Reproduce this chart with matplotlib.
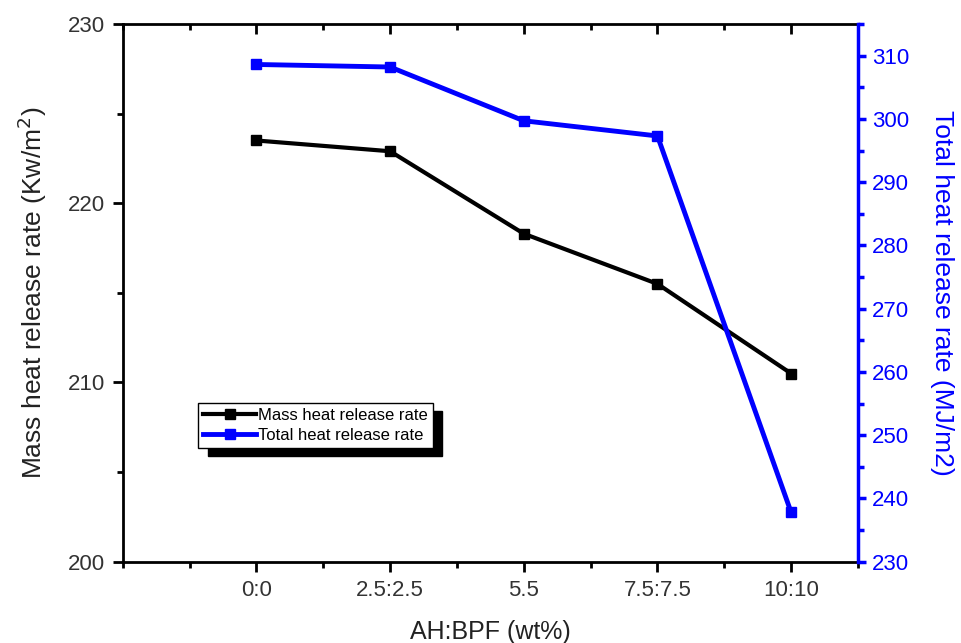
import matplotlib.pyplot as plt
from matplotlib.ticker import MultipleLocator

plt.rcParams["font.family"] = ["Liberation Sans", "DejaVu Sans"]

# Data
categories = ["0:0", "2.5:2.5", "5.5", "7.5:7.5", "10:10"]
mass_hrr = [223.5, 222.9, 218.3, 215.5, 210.5]
total_hrr = [308.6, 308.2, 299.7, 297.3, 237.8]

x = list(range(len(categories)))
blue = "#0000ff"

fig = plt.figure(figsize=(9.61, 6.43), dpi=100)
ax = fig.add_axes([0.1277, 0.1264, 0.7651, 0.8363])
ax2 = ax.twinx()

l1, = ax.plot(x, mass_hrr, color="black", lw=3, marker="s", ms=7.5,
              label="Mass heat release rate")
l2, = ax2.plot(x, total_hrr, color=blue, lw=3.5, marker="s", ms=7.5,
               label="Total heat release rate")

ax.set_xlim(-1, 4.5)
ax.set_ylim(200, 230)
ax2.set_ylim(230, 315)

ax.set_xticks(x)
ax.set_xticklabels(categories)
ax.xaxis.set_minor_locator(MultipleLocator(0.5))
ax.yaxis.set_major_locator(MultipleLocator(10))
ax.yaxis.set_minor_locator(MultipleLocator(5))
ax2.yaxis.set_major_locator(MultipleLocator(10))
ax2.yaxis.set_minor_locator(MultipleLocator(5))

# top axis: ticks pointing inward, no labels
top = ax.secondary_xaxis("top")
top.set_xticks(x)
top.xaxis.set_minor_locator(MultipleLocator(0.5))
top.tick_params(which="major", direction="in", length=7, width=2,
                labeltop=False)
top.tick_params(which="minor", direction="in", length=4, width=2)
top.spines["top"].set_linewidth(2)

for s in ["left", "bottom"]:
    ax.spines[s].set_linewidth(2)
ax.spines["top"].set_visible(False)
ax.spines["right"].set_visible(False)
for s in ["left", "bottom", "top"]:
    ax2.spines[s].set_visible(False)
ax2.spines["right"].set_color(blue)
ax2.spines["right"].set_linewidth(2.5)

ax.tick_params(axis="both", which="major", length=7, width=2,
               labelsize=16, labelcolor="#333333", direction="out", pad=6)
ax.tick_params(axis="both", which="minor", length=4, width=2, direction="out")
ax2.tick_params(axis="y", which="major", length=6, width=2.5, colors=blue,
                labelsize=16, pad=4)
ax2.tick_params(axis="y", which="minor", length=4, width=2.5, colors=blue)

ax.set_xlabel("AH:BPF (wt%)", fontsize=18, color="#222222", labelpad=14)
ax.set_ylabel("Mass heat release rate (Kw/m$^2$)", fontsize=19,
              color="#222222", labelpad=13)
ax2.set_ylabel("Total heat release rate (MJ/m2)", fontsize=19, color=blue,
               rotation=270, labelpad=32)

leg = ax.legend(handles=[l1, l2], loc="upper left",
                bbox_to_anchor=(0.1024, 0.295), fontsize=12, frameon=True,
                fancybox=False,
                shadow={"color": "black", "alpha": 1, "ox": 7, "oy": -6},
                borderpad=0.3, labelspacing=0.3, handlelength=3.2,
                handletextpad=0.1, borderaxespad=0)
leg.get_frame().set_edgecolor("black")
leg.get_frame().set_linewidth(1)

fig.savefig("out.png", dpi=100)
